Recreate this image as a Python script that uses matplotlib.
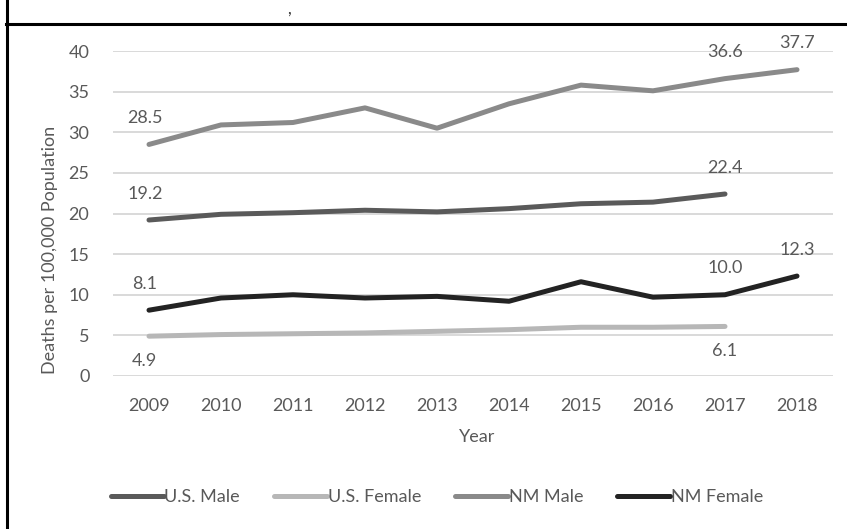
import matplotlib.pyplot as plt
from matplotlib.lines import Line2D

years = [2009, 2010, 2011, 2012, 2013, 2014, 2015, 2016, 2017, 2018]

us_male = [19.2, 19.9, 20.1, 20.4, 20.2, 20.6, 21.2, 21.4, 22.4]
us_female = [4.9, 5.1, 5.2, 5.3, 5.5, 5.7, 6.0, 6.0, 6.1]
nm_male = [28.5, 30.9, 31.2, 33.0, 30.5, 33.5, 35.8, 35.1, 36.6, 37.7]
nm_female = [8.1, 9.6, 10.0, 9.6, 9.8, 9.2, 11.6, 9.7, 10.0, 12.3]

# name, values, colour, indices that get a value label
series = [
    ("U.S. Male", us_male, "#5a5a5a", [0, 8]),
    ("U.S. Female", us_female, "#b7b7b7", [0, 8]),
    ("NM Male", nm_male, "#8a8a8a", [0, 8, 9]),
    ("NM Female", nm_female, "#232323", [0, 8, 9]),
]

txt = "#595959"
fs = 13
plt.rcParams['font.family'] = ['Lato', 'DejaVu Sans']

W, H = 847, 529
fig = plt.figure(figsize=(W / 100, H / 100), dpi=100)
ax = fig.add_axes([113 / W, 1 - 376 / H, (833 - 113) / W, (376 - 51) / H])

x = list(range(len(years)))
for name, vals, col, _ in series:
    ax.plot(x[:len(vals)], vals, color=col, lw=3.6, solid_capstyle='round',
            solid_joinstyle='round', label=name, zorder=3)

for name, vals, col, idx in series:
    dy = -18 if name == "U.S. Female" else 19
    for i in idx:
        ax.annotate(f"{vals[i]:.1f}", (x[i], vals[i]), xytext=(-3 if i == 0 else 0, dy),
                    textcoords='offset points', ha='center', va='center',
                    fontsize=fs, color=txt)

ax.set_xlim(-0.5, len(years) - 0.5)
ax.set_ylim(0, 40)
ax.set_yticks(range(0, 41, 5))
ax.set_xticks(x)
ax.set_xticklabels([str(y) for y in years])
ax.grid(axis='y', color='#d9d9d9', lw=1.4, zorder=0)
ax.set_axisbelow(True)
for s in ax.spines.values():
    s.set_visible(False)
ax.tick_params(length=0, labelsize=fs, labelcolor=txt)
ax.tick_params(axis='x', pad=16)
ax.tick_params(axis='y', pad=17)

fig.text(477 / W, 1 - 437 / H, "Year", ha='center', va='center', fontsize=fs, color=txt)
fig.text(50 / W, 1 - 250 / H, "Deaths per 100,000 Population", rotation=90,
         ha='center', va='center', fontsize=fs, color=txt)

handles = [Line2D([], [], color=c, lw=3.6, solid_capstyle='round') for _, _, c, _ in series]
fig.legend(handles, [s[0] for s in series], loc='center', ncol=4,
           bbox_to_anchor=(437 / W, 1 - 497 / H), frameon=False, fontsize=fs,
           labelcolor=txt, handlelength=2.9, handletextpad=0.05, columnspacing=1.9)

# outer frame edges and the clipped title above
fig.add_artist(Line2D([6.5 / W, 6.5 / W], [0, 1], color='black', lw=2.2))
fig.add_artist(Line2D([6 / W, 1], [1 - 24 / H, 1 - 24 / H], color='black', lw=2.2))
fig.text(289 / W, 1 - 1 / H, ",", ha='center', va='top', fontsize=12, color='#333333')

fig.savefig("out.png", dpi=100)
